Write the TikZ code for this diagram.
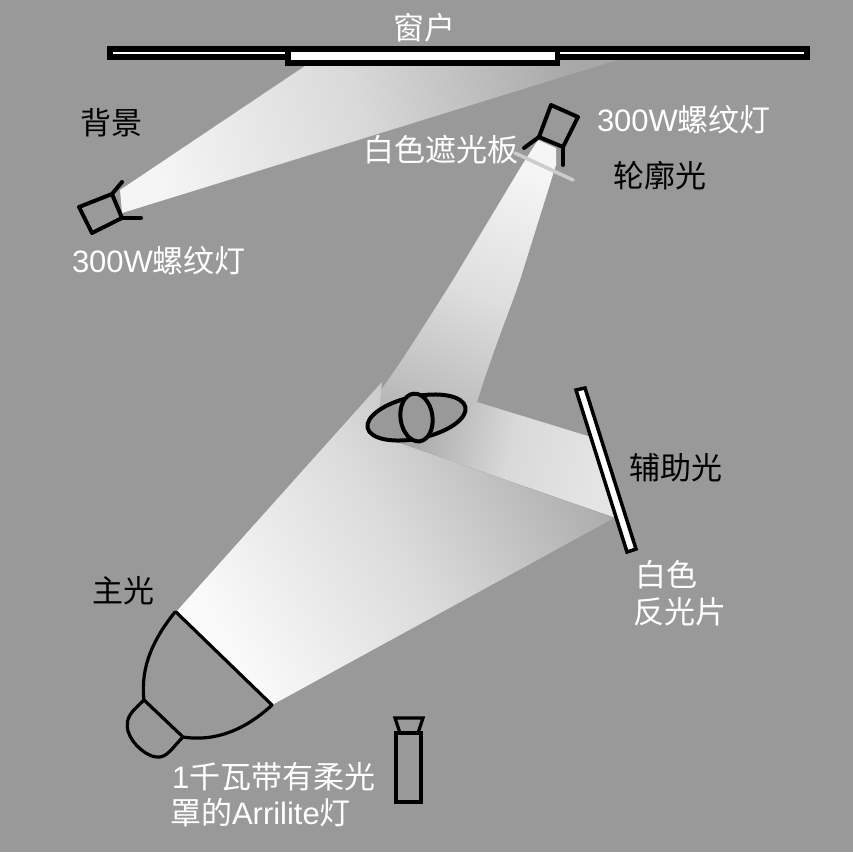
\documentclass[tikz,border=0pt]{standalone}
\usepackage{fontspec}
\setmainfont{Liberation Sans}
\newfontfamily\cjk{Noto Sans CJK SC}
\definecolor{bgc}{HTML}{999999}
\tikzset{
  lab/.style={inner sep=0pt,outer sep=0pt,anchor=west,font=\fontsize{31}{31}\selectfont},
  wlab/.style={lab,text=white},
  klab/.style={lab,text=black},
  ink/.style={draw=black,line width=4pt,line join=round,line cap=round},
  beam/.style={draw=none}
}
\begin{document}
\begin{tikzpicture}[x=1pt,y=-1pt]
\useasboundingbox (0,0) rectangle (853,852);
\fill[bgc] (0,0) rectangle (853,852);
% background light beam
\shade[beam,top color=white!96!black,bottom color=white!66!black,middle color=white!85!black,shading angle=105]
  (120,190) -- (305,66) -- (555,66) -- (558,60) -- (617,60) -- (122,213) -- cycle;
% rim light beam
\shade[beam,top color=white!96!black,bottom color=white!72!black,middle color=white!87!black,shading angle=338]
  (538,140) -- (556,148) -- (556,165) -- (520,280) .. controls (508,315) and (495,345) .. (477,402)
  -- (440,440) -- (375,415) -- (376,396) .. controls (395,372) and (415,340) .. (453,280) -- (522,165) -- cycle;
% key light beam
\shade[beam,top color=white!98!black,bottom color=white!68!black,middle color=white!86!black,shading angle=120]
  (176,612) -- (382,382) -- (378,420) -- (400,443) -- (614,518) -- (272,705) -- cycle;
% fill light beam
\shade[beam,top color=white!66!black,bottom color=white!90!black,middle color=white!85!black,shading angle=79]
  (477,402) -- (591,437) -- (616,518) -- (400,443) -- (440,430) -- cycle;
% window
\fill[black] (107,46) rectangle (810,60);
\fill[black] (285,46) rectangle (560,66);
\fill[white] (113,52) rectangle (285,54);
\fill[white] (560,52) rectangle (804,54);
\fill[white] (291,52) rectangle (555,60);
% subject
\draw[ink,fill=bgc] (416.5,417.5) ellipse [x radius=50,y radius=21,rotate=12];
\draw[ink,fill=bgc] (416.5,417.5) ellipse [x radius=16,y radius=24,rotate=8];
% background lamp
\draw[ink] (79,207) -- (112,194) -- (122,218) -- (92,233) -- cycle;
\draw[ink] (112,194) -- (122,182);
\draw[ink] (122,218) -- (141,218);
% scrim
\draw[draw=white!80!black,line width=3.5pt,line cap=round] (515,153) -- (573,180);
% rim lamp
\draw[ink] (551,105) -- (578,117) -- (563,147) -- (539,137) -- cycle;
\draw[ink] (539,137) -- (524,148);
\draw[ink] (563,147) -- (563,165);
% reflector
\draw[draw=black,line width=3.5pt,fill=white,line join=miter] (576,390) -- (585,388) -- (636,549) -- (627,552) -- cycle;
% key lamp
\draw[ink,line width=3.2pt] (176,612) -- (272,705);
\draw[ink,line width=3.2pt] (175,612) .. controls (155,637) and (140,665) .. (144,700)
  -- (183,737) .. controls (215,742) and (245,730) .. (272,705);
\draw[ink,line width=3.2pt] (144,700) .. controls (132,712) and (125,716) .. (128,731)
  .. controls (132,745) and (148,757) .. (157,757)
  .. controls (167,758) and (172,748) .. (183,737);
% camera
\draw[ink,line width=3.2pt,line join=miter] (396,733) rectangle (421,802);
\draw[ink,line width=3.2pt,line join=miter] (395,718) -- (423,718) -- (418,733) -- (400,733) -- cycle;
% labels
\node[wlab] (window) at (393,28) {\cjk 窗户};
\node[klab] (bgl) at (80,123) {\cjk 背景};
\node[wlab] (scrimt) at (363,150) {\cjk 白色遮光板};
\node[wlab] (lampa) at (597,120) {300W\cjk 螺纹灯};
\node[klab] (riml) at (613,176) {\cjk 轮廓光};
\node[wlab] (lampb) at (72,261) {300W\cjk 螺纹灯};
\node[klab] (filll) at (629,468) {\cjk 辅助光};
\node[wlab] (refa) at (635,575) {\cjk 白色};
\node[wlab] (refb) at (633,612) {\cjk 反光片};
\node[klab] (keyl) at (92,591) {\cjk 主光};
\node[wlab] (arra) at (172,777) {1\cjk 千瓦带有柔光};
\node[wlab] (arrb) at (170,813) {\cjk 罩的{\rmfamily Arrilite}灯};
\end{tikzpicture}
\end{document}
